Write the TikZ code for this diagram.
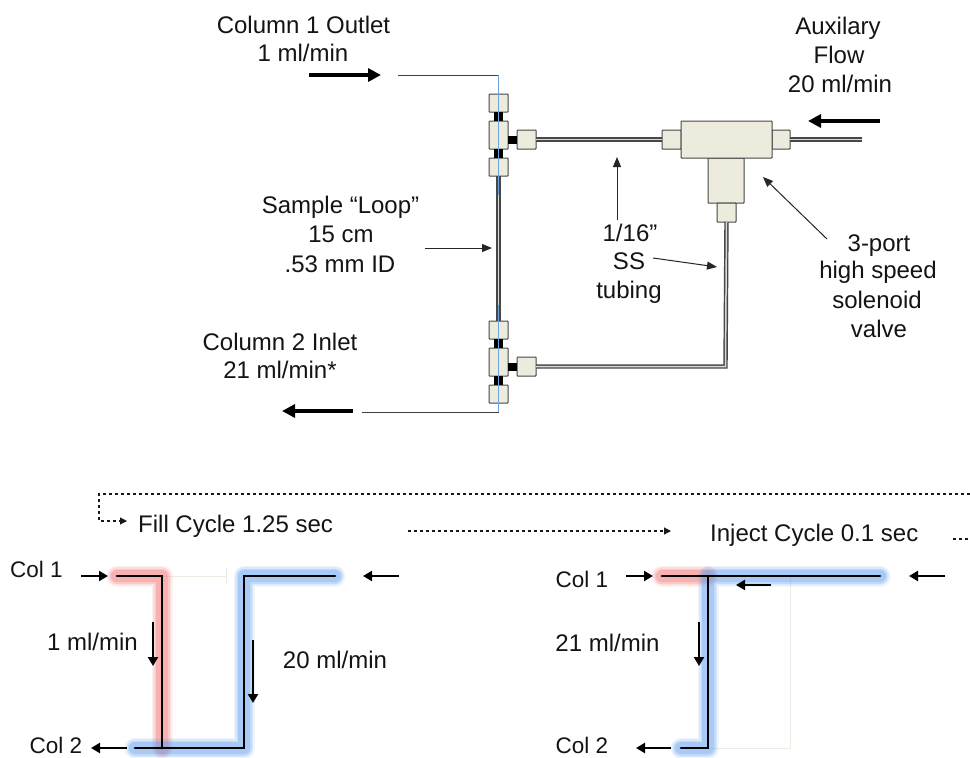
\documentclass[tikz,border=0pt]{standalone}
\usepackage{fontspec}
\setmainfont{Liberation Sans}
\usetikzlibrary{arrows.meta}
\tikzset{
  x=1pt,y=-1pt,
  lbl/.style={font=\fontsize{24}{28}\selectfont,text=black!92,inner sep=0pt,anchor=base},
  lbll/.style={lbl,anchor=base west},
  part/.style={draw=black!72,line width=1pt,fill=partfill,rounded corners=0.7pt,inner sep=0pt,outer sep=0pt},
  tube/.style={draw=black!72,line width=4.4pt},
  tubecore/.style={draw=black!15,line width=1.5pt},
  stub/.style={draw=black,line width=9pt},
  thin line/.style={draw=black!75,line width=1pt},
  blueline/.style={draw=wireblue,line width=1.1pt},
  bigarrow/.style={draw=black,line width=3.6pt,-{Triangle[length=13pt,width=13pt]}},
  smallarrow/.style={draw=black!85,line width=1pt,-{Triangle[length=10pt,width=8pt]}},
  flowarrow/.style={draw=black,line width=2.4pt,-{Triangle[length=9pt,width=10pt]}},
  wire/.style={draw=black,line width=2.8pt,line cap=round,line join=miter},
  faint/.style={draw=faintline,line width=0.8pt},
  dashline/.style={draw=black!90,line width=1.1pt,dash pattern=on 3.2pt off 2.8pt},
  dasharrow/.style={dashline,-{Triangle[length=7pt,width=7pt]}},
}
\definecolor{partfill}{HTML}{ECEBDD}
\definecolor{wireblue}{HTML}{6FA3DC}
\definecolor{faintline}{HTML}{ECEDE2}
\definecolor{glowred}{HTML}{F47070}
\definecolor{glowblue}{HTML}{5A9EF0}
\newcommand{\glowpath}[2]{%
  \foreach \w/\o in {21/0.10,18/0.14,15/0.18,12/0.26}{
    \draw[draw=#1,draw opacity=\o,line width=\w pt,line cap=round,line join=round] #2;
  }}
\newcommand{\partbox}[5]{\node[part,minimum width=#4 pt,minimum height=#5 pt] (#1) at (#2,#3) {};}
\begin{document}
\begin{tikzpicture}
\useasboundingbox (0,0) rectangle (970,758);
\clip (0,0) rectangle (970,758);
\fill[white] (0,0) rectangle (970,758);

% --- upper diagram: fittings
\partbox{ta}{498.5}{103}{19}{18}
\partbox{tb}{498.5}{135}{19}{28}
\partbox{tc}{498.5}{167}{19}{18}
\partbox{tr}{526.5}{139.5}{19}{19}
\partbox{ba}{498.5}{330}{19}{18}
\partbox{bb}{498.5}{362}{19}{28}
\partbox{bc}{498.5}{394}{19}{18}
\partbox{br}{526.5}{366.5}{19}{19}
\partbox{vl}{671.5}{139.5}{19}{19}
\partbox{vr}{781}{139.5}{18}{19}
\partbox{vd}{726}{180.5}{36}{45}
\partbox{vs}{726.5}{212.5}{19}{19}
\partbox{vb}{726.5}{139.5}{91}{37}

\coordinate (auxend) at (862,139.5);
\coordinate (corner) at (725.5,366.5);
\coordinate (bluetop) at (498.5,75);
\coordinate (bluebot) at (498.5,412);
\coordinate (blueA) at (498.5,195);
\coordinate (blueB) at (498.5,305);
\coordinate (inl) at (398,75);
\coordinate (outl) at (362,412);

% tubes
\draw[tube] (tr.east) -- (vl.west);
\draw[tubecore] (tr.east) -- (vl.west);
\draw[tube] (vr.east) -- (auxend);
\draw[tubecore] (vr.east) -- (auxend);
\draw[tube,line join=miter] (br.east) -- (corner) -- (vs.south);
\draw[tubecore,line join=miter] (br.east) -- (corner) -- (vs.south);
\draw[tube] (tc.south) -- (ba.north);
\draw[tubecore] (tc.south) -- (ba.north);
% black stubs
\draw[stub] (ta.south) -- (tb.north);
\draw[stub] (tb.south) -- (tc.north);
\draw[stub] (ba.south) -- (bb.north);
\draw[stub] (bb.south) -- (bc.north);
\draw[draw=black,line width=8pt] (tb.east |- tr.west) -- (tr.west);
\draw[draw=black,line width=8pt] (bb.east |- br.west) -- (br.west);
% thin sample path
\draw[thin line] (inl) -- (bluetop);
\draw[thin line] (outl) -- (bluebot);
\draw[blueline] (bluetop) -- (blueA);
\draw[blueline] (blueB) -- (bluebot);

% upper labels
\node[lbl] (t1) at (303.5,33) {Column 1 Outlet};
\node[lbl] (t2) at (303,61) {1 ml/min};
\node[lbl] (t3) at (838,34) {Auxilary};
\node[lbl] (t4) at (839,63) {Flow};
\node[lbl] (t5) at (840,92) {20 ml/min};
\node[lbl] (t6) at (340.5,213) {Sample “Loop”};
\node[lbl] (t7) at (341,242) {15 cm};
\node[lbl] (t8) at (340,272) {.53 mm ID};
\node[lbl] (t9) at (280,350) {Column 2 Inlet};
\node[lbl] (t10) at (280,378) {21 ml/min*};
\node[lbl] (t11) at (630,241) {1/16”};
\node[lbl] (t12) at (629,269) {SS};
\node[lbl] (t13) at (629,298) {tubing};
\node[lbl] (t14) at (879,251) {3-port};
\node[lbl] (t15) at (878,278) {high speed};
\node[lbl] (t16) at (877,308) {solenoid};
\node[lbl] (t17) at (879,337) {valve};

% upper arrows
\coordinate (a1s) at (309,75); \coordinate (a1e) at (381,75);
\coordinate (a2s) at (880,121); \coordinate (a2e) at (808,121);
\coordinate (a3s) at (353,411); \coordinate (a3e) at (282,411);
\coordinate (a4s) at (425,248); \coordinate (a4e) at (492,248);
\coordinate (a5s) at (617,220); \coordinate (a5e) at (617,157);
\coordinate (a6s) at (653,258); \coordinate (a6e) at (717,267);
\coordinate (a7s) at (827,239); \coordinate (a7e) at (763,177);
\draw[bigarrow] (a1s) -- (a1e);
\draw[bigarrow] (a2s) -- (a2e);
\draw[bigarrow] (a3s) -- (a3e);
\draw[smallarrow] (a4s) -- (a4e);
\draw[smallarrow] (a5s) -- (a5e);
\draw[smallarrow] (a6s) -- (a6e);
\draw[smallarrow] (a7s) -- (a7e);

% cycle dashes
\coordinate (d1) at (970,494); \coordinate (d2) at (99,494); \coordinate (d3) at (99,521); \coordinate (d4) at (127,521);
\coordinate (d5) at (408,531); \coordinate (d6) at (671,531);
\coordinate (d7) at (953,539); \coordinate (d8) at (970,539);
\draw[dasharrow] (d1) -- (d2) -- (d3) -- (d4);
\draw[dasharrow] (d5) -- (d6);
\draw[dashline] (d7) -- (d8);
\node[lbll] (fill) at (138,532) {Fill Cycle 1.25 sec};
\node[lbll] (inject) at (710,541) {Inject Cycle 0.1 sec};

% left (fill) schematic
\coordinate (p1) at (117,576); \coordinate (p2) at (162,576); \coordinate (p3) at (162,748);
\coordinate (p4) at (135,748); \coordinate (p5) at (244,748); \coordinate (p6) at (244,576); \coordinate (p7) at (335,576);
\coordinate (p8) at (226,576); \coordinate (p8a) at (226,568); \coordinate (p8b) at (226,585);
\draw[faint] (p2) -- (p8);
\draw[faint] (p8a) -- (p8b);
\glowpath{glowred}{(p1) -- (p2) -- (p3)}
\glowpath{glowblue}{(p4) -- (p5) -- (p6) -- (p7)}
\draw[wire] (p1) -- (p2) -- (p3);
\draw[wire] (p4) -- (p5) -- (p6) -- (p7);
\node[lbl,font=\fontsize{22.5}{26}\selectfont] (c1) at (36.5,577) {Col 1};
\node[lbl,font=\fontsize{22.5}{26}\selectfont] (c2) at (56,753) {Col 2};
\node[lbl] (f1) at (92.5,650) {1 ml/min};
\node[lbl] (f2) at (335,668) {20 ml/min};
\coordinate (e1s) at (81,576); \coordinate (e1e) at (108,576);
\coordinate (e2s) at (399,576); \coordinate (e2e) at (363,576);
\coordinate (e3s) at (127,748); \coordinate (e3e) at (91,748);
\coordinate (e4s) at (153,622); \coordinate (e4e) at (153,666);
\coordinate (e5s) at (253,640); \coordinate (e5e) at (253,703);
\foreach \n in {1,...,5}{\draw[flowarrow] (e\n s) -- (e\n e);}

% right (inject) schematic
\coordinate (q1) at (662,576); \coordinate (q2) at (708,576); \coordinate (q3) at (708,748);
\coordinate (q4) at (681,748); \coordinate (q5) at (880,576);
\coordinate (q6) at (790,576); \coordinate (q7) at (790,748);
\draw[faint] (q6) -- (q7) -- (q3);
\glowpath{glowred}{(q1) -- (q2)}
\glowpath{glowblue}{(q5) -- (q2) -- (q3) -- (q4)}
\draw[wire] (q1) -- (q5);
\draw[wire] (q2) -- (q3) -- (q4);
\node[lbl,font=\fontsize{22.5}{26}\selectfont] (c3) at (582,587) {Col 1};
\node[lbl,font=\fontsize{22.5}{26}\selectfont] (c4) at (582,753) {Col 2};
\node[lbl] (f3) at (607.5,651) {21 ml/min};
\coordinate (g1s) at (626,576); \coordinate (g1e) at (653,576);
\coordinate (g2s) at (945,576); \coordinate (g2e) at (909,576);
\coordinate (g3s) at (671,748); \coordinate (g3e) at (636,748);
\coordinate (g4s) at (699,622); \coordinate (g4e) at (699,666);
\coordinate (g5s) at (771,585); \coordinate (g5e) at (736,585);
\foreach \n in {1,...,5}{\draw[flowarrow] (g\n s) -- (g\n e);}
\end{tikzpicture}
\end{document}
